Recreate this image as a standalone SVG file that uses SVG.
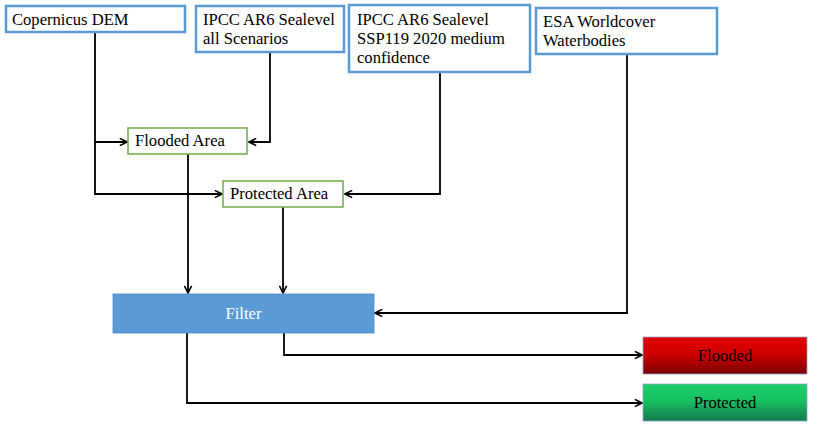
<svg xmlns="http://www.w3.org/2000/svg" width="817" height="432" viewBox="0 0 817 432">
<style>
text{font-family:"Liberation Serif","Times New Roman",serif;font-size:16.6px;fill:#000}
.src{fill:#fff;stroke:#5b9bd5;stroke-width:2.5}
.proc{fill:#fff;stroke:#70ad47;stroke-width:1.5}
.ln{fill:none;stroke:#000;stroke-width:1.8}
.arr{marker-end:url(#ah)}
</style>
<defs>
<marker id="ah" viewBox="0 0 10 10" refX="9" refY="5" markerWidth="9" markerHeight="9" markerUnits="userSpaceOnUse" orient="auto">
<path d="M1,1 L9,5 L1,9" fill="none" stroke="#000" stroke-width="1.8"/>
</marker>
<linearGradient id="gr" x1="0" y1="0" x2="0" y2="1"><stop offset="0" stop-color="#e40000"/><stop offset="0.45" stop-color="#d00000"/><stop offset="1" stop-color="#7a0000"/></linearGradient>
<linearGradient id="gg" x1="0" y1="0" x2="0" y2="1"><stop offset="0" stop-color="#1ccf6a"/><stop offset="0.45" stop-color="#18c062"/><stop offset="1" stop-color="#137a4c"/></linearGradient>
</defs>
<g id="connectors">
<path class="ln arr" d="M95,32 V142 H127"/>
<path class="ln arr" d="M95,142 V194 H222"/>
<path class="ln arr" d="M270,52 V142 H249"/>
<path class="ln arr" d="M440,72 V194 H345"/>
<path class="ln arr" d="M188,154 V293"/>
<path class="ln arr" d="M283,207 V293"/>
<path class="ln arr" d="M627,54 V313 H375"/>
<path class="ln arr" d="M284,333 V355 H642"/>
<path class="ln arr" d="M187,333 V403 H642"/>
</g>
<g id="copernicus"><rect class="src" x="6" y="6" width="179" height="26"/><text x="12" y="25">Copernicus DEM</text></g>
<g id="ipcc-all"><rect class="src" x="196" y="6" width="148" height="46"/><text x="203" y="25">IPCC AR6 Sealevel</text><text x="203" y="44">all Scenarios</text></g>
<g id="ipcc-ssp119"><rect class="src" x="349" y="5" width="181" height="67"/><text x="357" y="25">IPCC AR6 Sealevel</text><text x="357" y="44">SSP119 2020 medium</text><text x="357" y="63">confidence</text></g>
<g id="esa"><rect class="src" x="536" y="8" width="181" height="46"/><text x="543" y="27">ESA Worldcover</text><text x="543" y="46">Waterbodies</text></g>
<g id="flooded-area"><rect class="proc" x="128" y="128" width="119" height="26"/><text x="135" y="146">Flooded Area</text></g>
<g id="protected-area"><rect class="proc" x="223" y="181" width="120" height="26"/><text x="230" y="199">Protected Area</text></g>
<g id="filter"><rect x="113" y="294" width="261" height="39" fill="#5b9bd5" stroke="#4a8ac8" stroke-width="0.8"/><text x="243.5" y="319" text-anchor="middle" style="fill:#fff">Filter</text></g>
<g id="flooded"><rect x="643" y="337" width="164" height="37" fill="url(#gr)" stroke="#8fa6d0" stroke-width="0.8"/><text x="725" y="361" text-anchor="middle">Flooded</text></g>
<g id="protected"><rect x="643" y="384" width="164" height="37" fill="url(#gg)" stroke="#8fa6d0" stroke-width="0.8"/><text x="725" y="408" text-anchor="middle">Protected</text></g>
</svg>
